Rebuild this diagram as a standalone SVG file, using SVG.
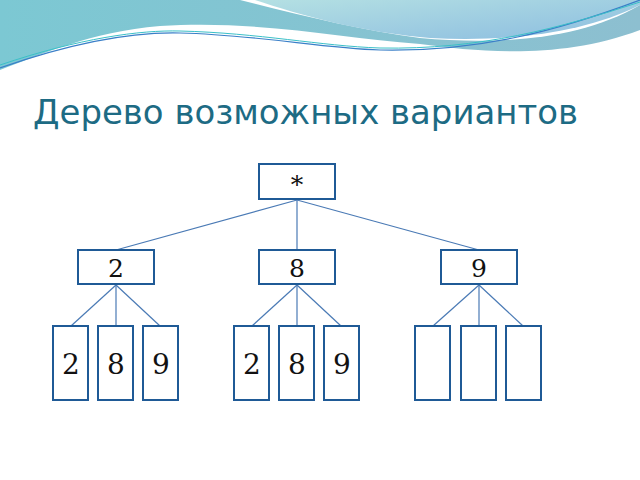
<svg xmlns="http://www.w3.org/2000/svg" width="640" height="480" viewBox="0 0 640 480">
<style>
.b{fill:#fff;stroke:#1f5a96;stroke-width:2}
.t{font-family:"DejaVu Serif",serif;font-size:25px;fill:#111;text-anchor:middle}
.l{font-size:28px}
.c line{stroke:#4a7ab5;stroke-width:1.2}
</style>
<defs>
<linearGradient id="g1" x1="0" y1="0" x2="1" y2="0"><stop offset="0" stop-color="#7cc8d3"/><stop offset="1" stop-color="#8dbfd0"/></linearGradient>
<linearGradient id="g2" x1="0" y1="0" x2="1" y2="1"><stop offset="0" stop-color="#b4e0e3"/><stop offset="1" stop-color="#8cbde0"/></linearGradient>
</defs>
<rect width="640" height="480" fill="#fff"/>
<path d="M0,0 H640 V30 C560,60 480,52 420,44 C340,38 260,20 160,26 C90,32 40,55 0,70 Z" fill="url(#g1)"/>
<path d="M240,0 H640 V5 C580,40 500,45 420,38 C360,30 300,15 240,0 Z" fill="#fff"/>
<path d="M255,0 H640 V5 C580,35 500,42 430,38 C360,32 300,15 255,0 Z" fill="url(#g2)"/>
<path d="M0,68 C80,40 140,32 180,33 C260,35 320,48 380,50 C480,52 560,30 640,0" fill="none" stroke="#3a7fc8" stroke-width="1.2"/>
<path d="M0,65 C80,38 140,30 180,31 C260,33 320,46 380,48 C480,50 560,28 640,2" fill="none" stroke="#3ac0c8" stroke-width="1"/>
<text x="33" y="124" font-family="'DejaVu Sans',sans-serif" font-size="34" fill="#1d6b84" textLength="545" lengthAdjust="spacingAndGlyphs">Дерево возможных вариантов</text>
<g class="c">
<line x1="297" y1="200" x2="116" y2="250"/><line x1="297" y1="200" x2="297" y2="250"/><line x1="297" y1="200" x2="479" y2="250"/>
<line x1="116" y1="285" x2="71" y2="326"/><line x1="116" y1="285" x2="116" y2="326"/><line x1="116" y1="285" x2="160" y2="326"/>
<line x1="297" y1="285" x2="252" y2="326"/><line x1="297" y1="285" x2="297" y2="326"/><line x1="297" y1="285" x2="341" y2="326"/>
<line x1="479" y1="285" x2="433" y2="326"/><line x1="479" y1="285" x2="479" y2="326"/><line x1="479" y1="285" x2="523" y2="326"/>
</g>
<g id="root"><rect class="b" x="259" y="164" width="76" height="35"/><text class="t" x="297" y="193">*</text></g>
<g id="n2"><rect class="b" x="78" y="250" width="76" height="34"/><text class="t" x="116" y="277">2</text></g>
<g id="n8"><rect class="b" x="259" y="250" width="76" height="34"/><text class="t" x="297" y="277">8</text></g>
<g id="n9"><rect class="b" x="441" y="250" width="76" height="34"/><text class="t" x="479" y="277">9</text></g>
<g id="l22"><rect class="b" x="53" y="326" width="35" height="74"/><text class="t l" x="71" y="374">2</text></g>
<g id="l28"><rect class="b" x="98" y="326" width="35" height="74"/><text class="t l" x="116" y="374">8</text></g>
<g id="l29"><rect class="b" x="143" y="326" width="35" height="74"/><text class="t l" x="161" y="374">9</text></g>
<g id="l82"><rect class="b" x="234" y="326" width="35" height="74"/><text class="t l" x="252" y="374">2</text></g>
<g id="l88"><rect class="b" x="279" y="326" width="35" height="74"/><text class="t l" x="297" y="374">8</text></g>
<g id="l89"><rect class="b" x="324" y="326" width="35" height="74"/><text class="t l" x="342" y="374">9</text></g>
<g id="l91"><rect class="b" x="415" y="326" width="35" height="74"/></g>
<g id="l92"><rect class="b" x="461" y="326" width="35" height="74"/></g>
<g id="l93"><rect class="b" x="506" y="326" width="35" height="74"/></g>
</svg>
